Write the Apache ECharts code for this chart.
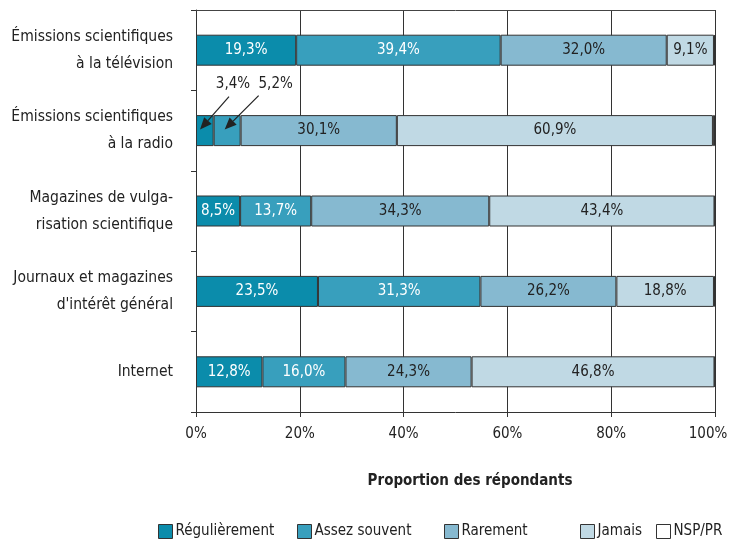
<!DOCTYPE html>
<html>
<head>
<meta charset="utf-8">
<script src="https://cdn.jsdelivr.net/npm/echarts@6/dist/echarts.min.js"></script>
<style>
  html, body { margin: 0; padding: 0; background: #fff; }
  #chart { width: 729px; height: 541px; }
</style>
</head>
<body>
<div id="chart"></div>
<script>
const categories = [
    "Émissions scientifiques\nà la télévision",
    "Émissions scientifiques\nà la radio",
    "Magazines de vulga-\nrisation scientifique",
    "Journaux et magazines\nd'intérêt général",
    "Internet"
];
const seriesNames = ["Régulièrement", "Assez souvent", "Rarement", "Jamais", "NSP/PR"];
const regulierement = [19.3, 3.4, 8.5, 23.5, 12.8];
const assezSouvent = [39.4, 5.2, 13.7, 31.3, 16.0];
const rarement = [32.0, 30.1, 34.3, 26.2, 24.3];
const jamais = [9.1, 60.9, 43.4, 18.8, 46.8];
const nspPr = [0.2, 0.4, 0.1, 0.2, 0.1];
const xTicks = [0, 20, 40, 60, 80, 100];

const FONT = "'DejaVu Sans Condensed', 'DejaVu Sans', sans-serif";
const colors = ["#0b8cab", "#389fbd", "#86b9d0", "#c0d9e4", "#ffffff"];
const labelColors = ["#ffffff", "#ffffff", "#222222", "#222222", "#222222"];
const allData = [regulierement, assezSouvent, rarement, jamais, nspPr];

function fmt(v) {
    return v.toFixed(1).replace(".", ",") + "%";
}

// the two small radio segments get their labels outside with arrows
const RADIO = 1;

const chart = echarts.init(document.getElementById("chart"));

const series = seriesNames.map((name, i) => ({
    name: name,
    type: "bar",
    stack: "total",
    barWidth: 31,
    data: allData[i].map((v, j) => ({
        value: v,
        label: { show: i < 4 && !(j === RADIO && i < 2) }
    })),
    itemStyle: { color: colors[i], borderColor: "#333", borderWidth: 1 },
    label: {
        position: "inside",
        color: labelColors[i],
        fontFamily: FONT,
        fontSize: 15,
        formatter: (p) => fmt(p.value)
    },
    emphasis: { disabled: true }
}));

const legendLeft = [153, 292, 439, 575, 651];

chart.setOption({
    animation: false,
    textStyle: { fontFamily: FONT },
    grid: { left: 196, right: 14, top: 10, bottom: 129, containLabel: false, outerBoundsMode: "none" },
    legend: seriesNames.map((n, i) => ({
        data: [n],
        left: legendLeft[i],
        top: 519,
        itemWidth: 14,
        itemHeight: 14,
        itemGap: 0,
        icon: "rect",
        selectedMode: false,
        itemStyle: { borderWidth: 1, borderColor: "#333" },
        textStyle: { fontFamily: FONT, fontSize: 15, color: "#222", padding: [0, 0, 0, -2] }
    })),
    xAxis: [{
        type: "value",
        min: 0,
        max: 100,
        interval: 20,
        axisLine: { show: true, lineStyle: { color: "#333" } },
        axisTick: { show: true, length: 5, lineStyle: { color: "#333" } },
        axisLabel: {
            margin: 15,
            fontSize: 15,
            color: "#222",
            fontFamily: FONT,
            formatter: (v) => v === 100 ? "{last|100%}" : (xTicks.indexOf(v) >= 0 ? v + "%" : ""),
            rich: { last: { fontSize: 15, color: "#222", fontFamily: FONT, padding: [0, 14, 0, 0] } }
        },
        splitLine: { show: true, lineStyle: { color: "#333", width: 1 } }
    }, {
        type: "value",
        position: "top",
        min: 0,
        max: 100,
        axisLine: { show: true, lineStyle: { color: "#444" } },
        axisTick: { show: false },
        axisLabel: { show: false },
        splitLine: { show: false }
    }],
    yAxis: {
        type: "category",
        inverse: true,
        data: categories,
        axisLine: { show: true, lineStyle: { color: "#333" } },
        axisTick: { show: true, length: 5, lineStyle: { color: "#333" } },
        axisLabel: {
            margin: 23,
            fontSize: 15.5,
            lineHeight: 27,
            color: "#222",
            fontFamily: FONT,
            align: "right"
        }
    },
    series: series
});

// arrows pointing to the small radio segments
function arrow(tail, tip) {
    const dx = tip[0] - tail[0], dy = tip[1] - tail[1];
    const len = Math.sqrt(dx * dx + dy * dy);
    const ux = dx / len, uy = dy / len;
    const headLen = 12, headW = 5;
    const bx = tip[0] - ux * headLen, by = tip[1] - uy * headLen;
    return [{
        type: "line",
        shape: { x1: tail[0], y1: tail[1], x2: bx, y2: by },
        style: { stroke: "#222", lineWidth: 1.2 },
        z: 100
    }, {
        type: "polygon",
        shape: { points: [tip, [bx - uy * headW, by + ux * headW], [bx + uy * headW, by - ux * headW]] },
        style: { fill: "#222" },
        z: 100
    }];
}

const cat = categories[RADIO];
const graphics = [];
const segs = [
    { start: 0, value: regulierement[RADIO], tipOff: 4, tail: [33, -34], text: [37, -46] },
    { start: regulierement[RADIO], value: assezSouvent[RADIO], tipOff: 11, tail: [45, -35], text: [62, -46] }
];
segs.forEach((s) => {
    const p = chart.convertToPixel({ xAxisIndex: 0, yAxisIndex: 0 }, [s.start, cat]);
    const tip = [p[0] + s.tipOff, p[1] - 1];
    const tail = [p[0] + s.tail[0], p[1] + s.tail[1]];
    graphics.push(...arrow(tail, tip));
    graphics.push({
        type: "text",
        x: p[0] + s.text[0],
        y: p[1] + s.text[1],
        style: {
            text: fmt(s.value),
            fontFamily: FONT,
            fontSize: 15,
            fill: "#222",
            align: "center",
            verticalAlign: "middle"
        },
        z: 100
    });
});

graphics.push({
    type: "text",
    x: 470,
    y: 481,
    style: {
        text: "Proportion des répondants",
        fontFamily: FONT,
        fontSize: 15,
        fontWeight: "bold",
        fill: "#222",
        align: "center",
        verticalAlign: "middle"
    }
});

chart.setOption({ graphic: graphics });
</script>
</body>
</html>
